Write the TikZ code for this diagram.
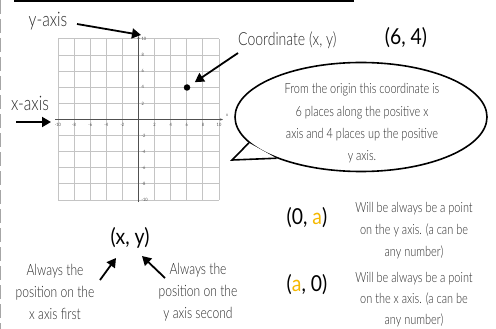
\documentclass[tikz,border=0pt]{standalone}
\usepackage{fontspec}
\setmainfont{Lato Light}[FakeStretch=0.78]
\newfontfamily\boldhand{Lato}[FakeStretch=0.88]
\usetikzlibrary{arrows.meta, positioning, shapes.geometric}
\definecolor{gridgray}{HTML}{C4C4C4}
\definecolor{axisgray}{HTML}{505050}
\definecolor{inkgray}{HTML}{2A2A2A}
\definecolor{gold}{HTML}{F5B800}

\begin{document}
\begin{tikzpicture}[x=1pt, y=-1pt,
    hand/.style={font=\fontsize{14}{22}\selectfont, text=inkgray, align=center, inner sep=0pt},
    label/.style={font=\fontsize{18}{20}\selectfont, text=inkgray, inner sep=0pt},
    pair/.style={font=\boldhand\fontsize{22}{24}\selectfont, inner sep=0pt},
    tick/.style={font=\boldhand\fontsize{4.5}{5}\selectfont, text=axisgray, inner sep=0.5pt},
    arr/.style={-{Triangle[length=9pt,width=10pt]}, line width=1.8pt}
  ]
  \useasboundingbox (0,0) rectangle (496,329);

  % frame bits
  \draw[line width=2pt] (14,1) -- (354,1);
  \draw[gray!70, line width=1pt, dash pattern=on 14pt off 5pt] (0.8,0) -- (0.8,329);

  % grid and axes
  \foreach \i in {0,...,10} {
    \draw[gridgray, line width=1pt] (58+16.1*\i,39) -- (58+16.1*\i,200);
    \draw[gridgray, line width=1pt] (58,39+16.1*\i) -- (219,39+16.1*\i);
  }
  \draw[axisgray, line width=1.3pt, -{Stealth[length=3pt]}] (55,119.5) -- (223,119.5);
  \draw[axisgray, line width=1.3pt, -{Stealth[length=3pt]}] (138.5,202) -- (138.5,36);
  \foreach \v in {-10,-8,-6,-4,-2,2,4,6,8,10} {
    \node[tick] (xt\v) at (138.5+8.05*\v,125) {\v};
    \node[tick, anchor=west] (yt\v) at (141,119.5-8.05*\v) {\v};
  }
  \node[tick] (xname) at (227,115) {x};
  \node[tick] (yname) at (134,37) {y};
  \node[circle, fill=black, inner sep=0pt, minimum size=6.5pt] (pt) at (187,87.5) {};

  % axis labels
  \node[label, font=\fontsize{20}{22}\selectfont] (ylab) at (48,21) {y-axis};
  \coordinate (ytip) at (141,35);
  \coordinate (ytail) at (77,24);
  \draw[arr] (ytail) -- (ytip);
  \node[label, font=\fontsize{20}{22}\selectfont] (xlab) at (30,103) {x-axis};
  \coordinate (xtail) at (16,122);
  \coordinate (xtip) at (51,122);
  \draw[arr] (xtail) -- (xtip);

  % coordinate label
  \node[label, anchor=west] (coordlab) at (238,40) {Coordinate (x, y)};
  \node[pair] (six) at (406,38) {(6, 4)};
  \coordinate (ctail) at (238,53);
  \draw[arr, shorten >=6pt] (ctail) -- (pt);

  % speech bubble
  \node[ellipse, draw, line width=1.6pt, minimum width=252pt, minimum height=109pt] (bubble) at (361,117) {};
  \coordinate (tip) at (232,160);
  \draw[line width=1.6pt, fill=white, line join=miter] (bubble.193) -- (tip) -- (bubble.206);
  \node[hand, font=\fontsize{14}{22.3}\selectfont] (bubtext) at (362,123.5)
    {From the origin this coordinate is\\6 places along the positive x\\axis and 4 places up the positive\\y axis.};

  % order of a pair
  \node[pair] (xy) at (130,238) {(x, y)};
  \node[hand, font=\fontsize{15.5}{22}\selectfont] (xfirst) at (55,292) {Always the\\position on the\\x axis first};
  \node[hand, font=\fontsize{15.5}{22}\selectfont] (ysecond) at (198,292) {Always the\\position on the\\y axis second};
  \coordinate (ltail) at (100,280);
  \coordinate (lhead) at (116,258);
  \coordinate (rtail) at (165,278);
  \coordinate (rhead) at (142,256);
  \draw[arr] (ltail) -- (lhead);
  \draw[arr] (rtail) -- (rhead);

  % points on the axes
  \node[pair] (yaxpt) at (307,218) {(0, \textcolor{gold}{a})};
  \node[hand] (yaxtxt) at (414,231) {Will be always be a point\\on the y axis. (a can be\\any number)};
  \node[pair] (xaxpt) at (307,285) {(\textcolor{gold}{a}, 0)};
  \node[hand, font=\fontsize{14}{21}\selectfont] (xaxtxt) at (414,300) {Will be always be a point\\on the x axis. (a can be\\any number)};
\end{tikzpicture}
\end{document}
